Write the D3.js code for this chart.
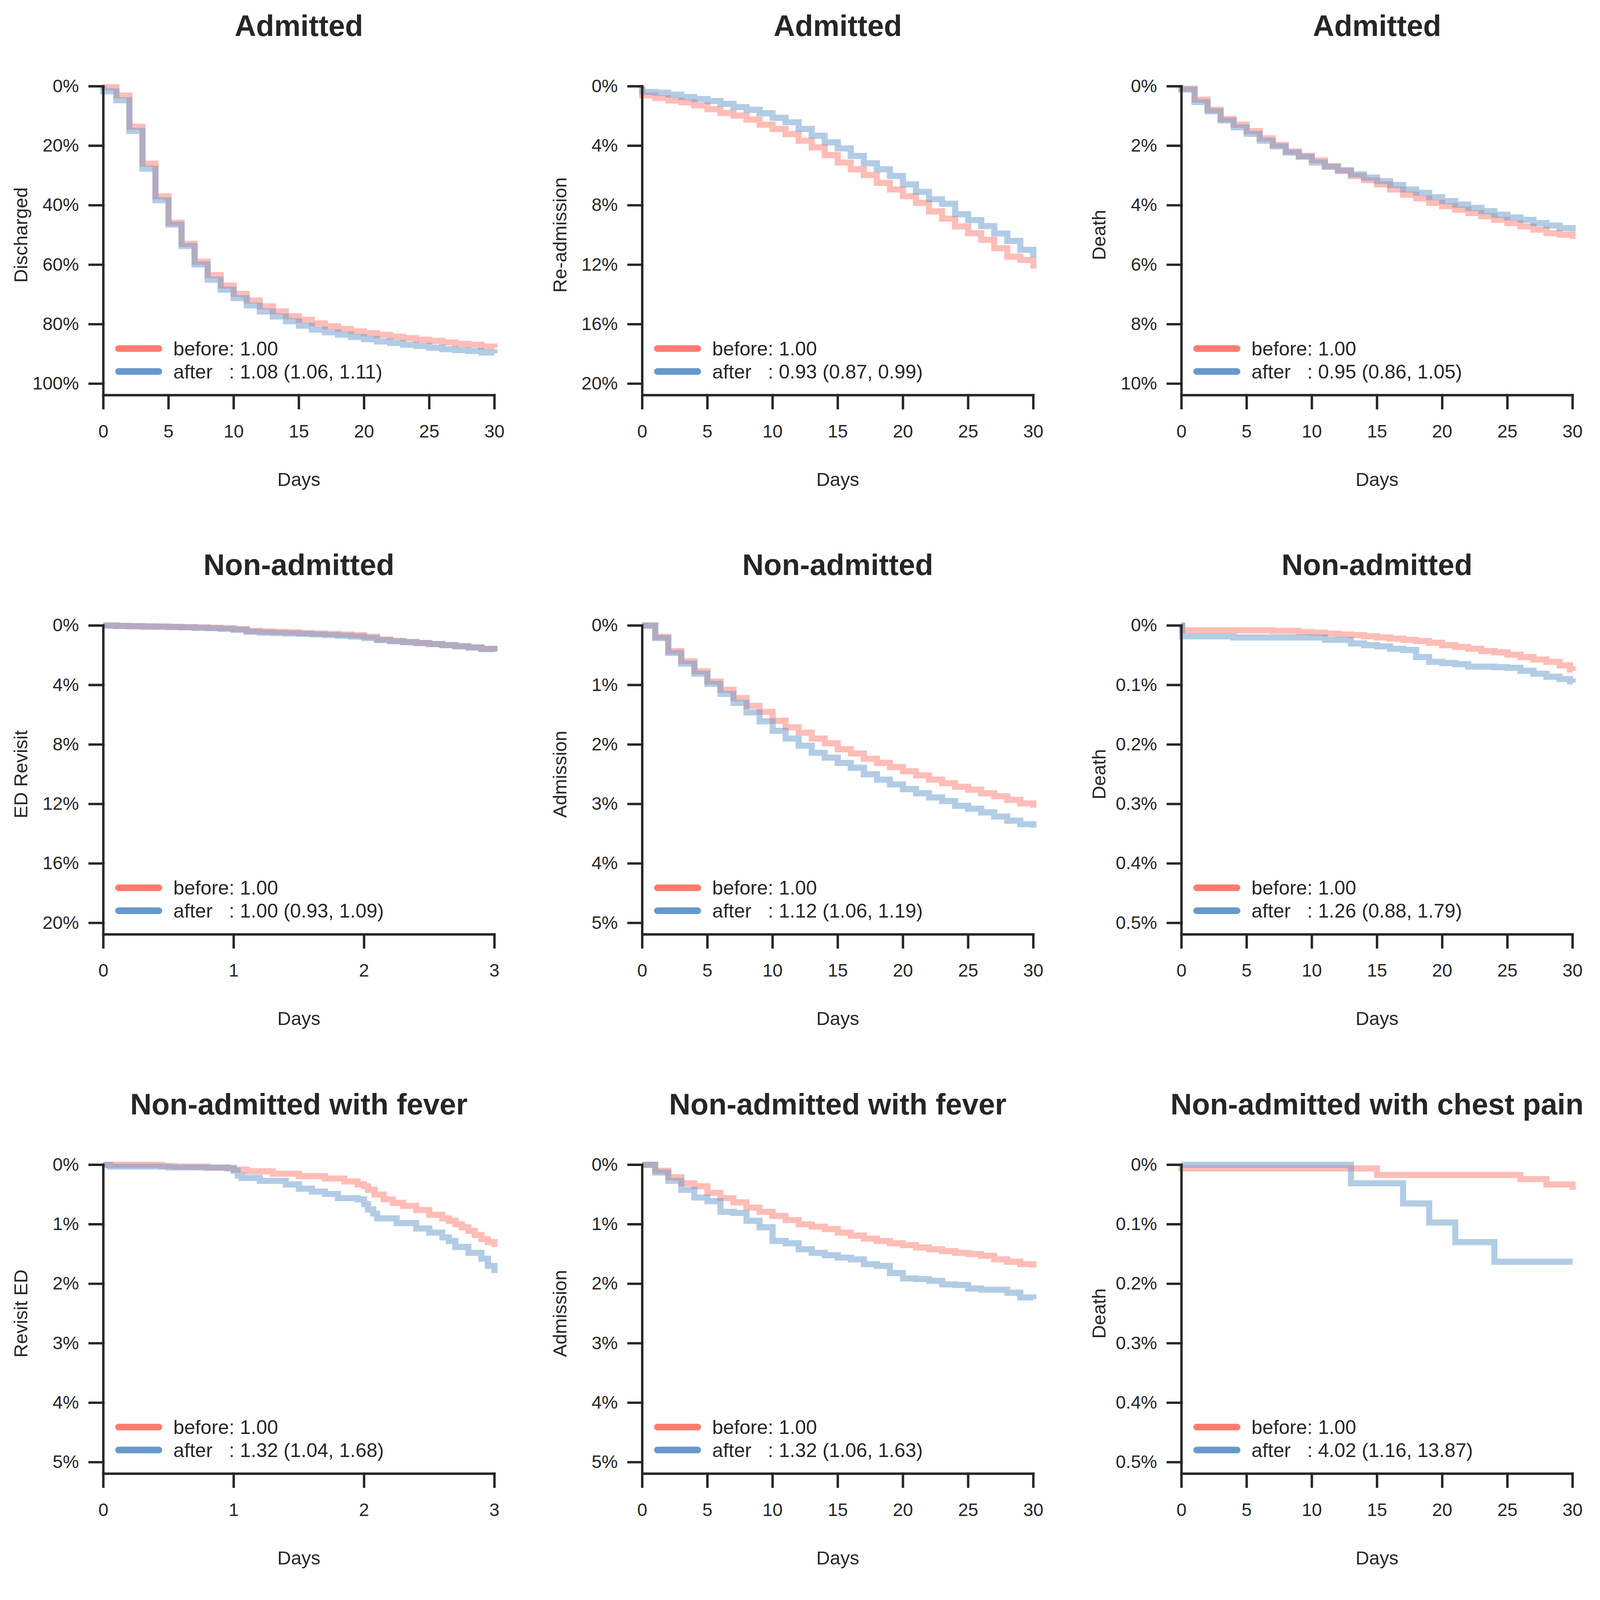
<!DOCTYPE html>
<html>
<head>
<meta charset="utf-8">
<script src="https://cdn.jsdelivr.net/npm/d3@7"></script>
<style>
  html, body { margin: 0; padding: 0; background: #fff; overflow: hidden; }
  svg { display: block; }
  text { font-family: 'Liberation Sans', Arial, sans-serif; fill: #262626; }
</style>
</head>
<body>
<div id="chart"></div>
<script>
// ---- data (cumulative %) ----

// daily step values, index = day 0..30
const dischargedBefore = [0.3, 3.1, 13.6, 26, 37, 45.9, 53, 59, 63.5, 67, 69.8, 72, 74, 75.7, 77.3, 78.5, 79.7, 80.7, 81.6, 82.4, 83, 83.6, 84.2, 84.7, 85.2, 85.6, 86.1, 86.6, 86.9, 87.5, 87.8]
const dischargedAfter = [1.7, 4.7, 15, 27.7, 38.3, 46.5, 53.7, 59.9, 65, 68.4, 71.2, 73.7, 75.7, 77.4, 79, 80.5, 81.8, 82.7, 83.5, 84.3, 85, 85.8, 86.3, 86.9, 87.3, 87.9, 88.4, 88.7, 89, 89.5, 89.8]

const readmitBefore = [0.61, 0.79, 0.95, 1.08, 1.29, 1.54, 1.79, 1.97, 2.24, 2.58, 2.87, 3.21, 3.66, 4.11, 4.63, 5.13, 5.58, 5.97, 6.49, 6.94, 7.39, 7.84, 8.41, 8.9, 9.42, 9.88, 10.33, 10.89, 11.46, 11.68, 12.25]
const readmitAfter = [0.38, 0.43, 0.56, 0.72, 0.86, 0.99, 1.18, 1.4, 1.58, 1.81, 2.12, 2.42, 2.87, 3.32, 3.77, 4.18, 4.68, 5.18, 5.58, 6.03, 6.6, 7.1, 7.6, 7.9, 8.6, 9.0, 9.4, 9.9, 10.4, 11.0, 11.5]

const deathAdmBefore = [0.08, 0.45, 0.79, 1.1, 1.29, 1.51, 1.75, 1.97, 2.19, 2.34, 2.49, 2.68, 2.85, 3.02, 3.16, 3.3, 3.47, 3.64, 3.77, 3.92, 4.03, 4.15, 4.26, 4.37, 4.49, 4.6, 4.71, 4.82, 4.94, 4.99, 5.13]
const deathAdmAfter = [0.11, 0.53, 0.84, 1.15, 1.38, 1.6, 1.83, 2.02, 2.23, 2.37, 2.56, 2.71, 2.82, 2.96, 3.07, 3.19, 3.32, 3.47, 3.58, 3.73, 3.86, 3.98, 4.09, 4.2, 4.32, 4.41, 4.49, 4.6, 4.68, 4.77, 4.88]

const admitNonBefore = [0, 0.19, 0.43, 0.6, 0.77, 0.94, 1.08, 1.22, 1.35, 1.45, 1.6, 1.71, 1.8, 1.9, 1.98, 2.08, 2.15, 2.24, 2.31, 2.38, 2.45, 2.52, 2.59, 2.65, 2.71, 2.76, 2.82, 2.87, 2.93, 2.99, 3.06]
const admitNonAfter = [0, 0.21, 0.46, 0.64, 0.81, 0.98, 1.15, 1.3, 1.46, 1.61, 1.77, 1.9, 2.02, 2.14, 2.22, 2.31, 2.39, 2.5, 2.59, 2.67, 2.75, 2.82, 2.89, 2.95, 3.03, 3.08, 3.14, 3.21, 3.28, 3.34, 3.4]

const admitFeverBefore = [0, 0.1, 0.21, 0.31, 0.36, 0.47, 0.56, 0.63, 0.72, 0.79, 0.86, 0.93, 1.0, 1.04, 1.08, 1.14, 1.19, 1.24, 1.28, 1.32, 1.35, 1.39, 1.42, 1.45, 1.48, 1.5, 1.53, 1.59, 1.63, 1.67, 1.73]
const admitFeverAfter = [0, 0.13, 0.27, 0.42, 0.55, 0.61, 0.79, 0.81, 0.94, 1.05, 1.28, 1.32, 1.42, 1.48, 1.52, 1.56, 1.59, 1.67, 1.7, 1.82, 1.91, 1.92, 1.95, 2.01, 2.02, 2.08, 2.1, 2.1, 2.15, 2.23, 2.26]

// [day, %] step points
const revisitBefore = [[0, 0], [0.1, 0.02], [0.2, 0.04], [0.3, 0.05], [0.4, 0.06], [0.5, 0.08], [0.6, 0.1], [0.7, 0.12], [0.8, 0.15], [0.9, 0.18], [1.0, 0.24], [1.1, 0.36], [1.2, 0.4], [1.3, 0.43], [1.4, 0.46], [1.5, 0.5], [1.6, 0.53], [1.7, 0.56], [1.8, 0.6], [1.9, 0.65], [2.0, 0.75], [2.1, 0.93], [2.2, 1.03], [2.3, 1.1], [2.4, 1.17], [2.5, 1.24], [2.6, 1.31], [2.7, 1.38], [2.8, 1.46], [2.9, 1.56], [3.0, 1.72]]
const revisitAfter = [[0, 0], [0.1, 0.03], [0.2, 0.05], [0.3, 0.07], [0.4, 0.08], [0.5, 0.1], [0.6, 0.12], [0.7, 0.15], [0.8, 0.18], [0.9, 0.22], [1.0, 0.28], [1.1, 0.42], [1.2, 0.47], [1.3, 0.5], [1.4, 0.53], [1.5, 0.56], [1.6, 0.6], [1.7, 0.64], [1.8, 0.69], [1.9, 0.74], [2.0, 0.84], [2.1, 0.98], [2.2, 1.06], [2.3, 1.12], [2.4, 1.18], [2.5, 1.25], [2.6, 1.32], [2.7, 1.4], [2.8, 1.48], [2.9, 1.58], [3.0, 1.76]]

const deathNonBefore = [[0, 0], [0.05, 0.008], [7, 0.009], [9, 0.011], [10, 0.012], [11, 0.0135], [12, 0.015], [13, 0.016], [14, 0.018], [15, 0.02], [16, 0.022], [17, 0.024], [18, 0.026], [19, 0.029], [20, 0.033], [21, 0.036], [22, 0.039], [23, 0.043], [24, 0.045], [25, 0.049], [26, 0.053], [27, 0.057], [28, 0.061], [29, 0.067], [29.8, 0.074], [30, 0.076]]
const deathNonAfter = [[0, 0], [0.05, 0.018], [4, 0.02], [11, 0.024], [13, 0.03], [14, 0.033], [15, 0.035], [16, 0.039], [17, 0.041], [18, 0.053], [19, 0.061], [20, 0.063], [21, 0.065], [22, 0.069], [24, 0.07], [25, 0.071], [26, 0.076], [27, 0.081], [28, 0.086], [29, 0.09], [29.8, 0.094], [30, 0.096]]

const revisitFeverBefore = [[0, 0], [0.45, 0.02], [0.55, 0.03], [0.8, 0.05], [1.0, 0.08], [1.1, 0.11], [1.3, 0.15], [1.5, 0.19], [1.7, 0.23], [1.85, 0.28], [1.95, 0.33], [2.0, 0.36], [2.03, 0.42], [2.08, 0.5], [2.15, 0.58], [2.22, 0.64], [2.3, 0.69], [2.4, 0.76], [2.5, 0.84], [2.6, 0.9], [2.65, 0.94], [2.7, 1.0], [2.75, 1.05], [2.8, 1.11], [2.85, 1.18], [2.9, 1.25], [2.95, 1.3], [3.0, 1.38]]
const revisitFeverAfter = [[0, 0], [0.05, 0.03], [0.5, 0.045], [0.95, 0.06], [1.0, 0.1], [1.03, 0.18], [1.06, 0.22], [1.2, 0.27], [1.4, 0.33], [1.5, 0.4], [1.6, 0.45], [1.7, 0.49], [1.8, 0.56], [1.95, 0.58], [2.0, 0.66], [2.03, 0.75], [2.07, 0.82], [2.1, 0.9], [2.25, 0.98], [2.4, 1.07], [2.5, 1.14], [2.6, 1.22], [2.65, 1.28], [2.7, 1.38], [2.8, 1.48], [2.9, 1.58], [2.95, 1.7], [3.0, 1.82]]

const deathChestBefore = [[0, 0], [0, 0.006], [15, 0.017], [26, 0.024], [28, 0.033], [30, 0.042]]
const deathChestAfter = [[0, 0], [13, 0.031], [17, 0.065], [19, 0.097], [21, 0.13], [24, 0.163], [30, 0.163]]

// axes ticks
const xTicks30 = [0, 5, 10, 15, 20, 25, 30]
const xTicks3 = [0, 1, 2, 3]
const yTicks100 = [0, 20, 40, 60, 80, 100]
const yTicks20 = [0, 4, 8, 12, 16, 20]
const yTicks10 = [0, 2, 4, 6, 8, 10]
const yTicks5 = [0, 1, 2, 3, 4, 5]
const yTicksHalf = [0, 0.1, 0.2, 0.3, 0.4, 0.5]

const titles = ['Admitted', 'Admitted', 'Admitted', 'Non-admitted', 'Non-admitted', 'Non-admitted', 'Non-admitted with fever', 'Non-admitted with fever', 'Non-admitted with chest pain']
const yLabels = ['Discharged', 'Re-admission', 'Death', 'ED Revisit', 'Admission', 'Death', 'Revisit ED', 'Admission', 'Death']
const afterRatios = ['1.08 (1.06, 1.11)', '0.93 (0.87, 0.99)', '0.95 (0.86, 1.05)', '1.00 (0.93, 1.09)', '1.12 (1.06, 1.19)', '1.26 (0.88, 1.79)', '1.32 (1.04, 1.68)', '1.32 (1.06, 1.63)', '4.02 (1.16, 13.87)']

// daily arrays -> step points starting at 0
const daily = vals => [[0, 0]].concat(vals.map((v, i) => [i, v]))

const panels = [
  { before: daily(dischargedBefore), after: daily(dischargedAfter), xTicks: xTicks30, yTicks: yTicks100 },
  { before: daily(readmitBefore), after: daily(readmitAfter), xTicks: xTicks30, yTicks: yTicks20 },
  { before: daily(deathAdmBefore), after: daily(deathAdmAfter), xTicks: xTicks30, yTicks: yTicks10 },
  { before: revisitBefore, after: revisitAfter, xTicks: xTicks3, yTicks: yTicks20 },
  { before: daily(admitNonBefore), after: daily(admitNonAfter), xTicks: xTicks30, yTicks: yTicks5 },
  { before: deathNonBefore, after: deathNonAfter, xTicks: xTicks30, yTicks: yTicksHalf },
  { before: revisitFeverBefore, after: revisitFeverAfter, xTicks: xTicks3, yTicks: yTicks5 },
  { before: daily(admitFeverBefore), after: daily(admitFeverAfter), xTicks: xTicks30, yTicks: yTicks5 },
  { before: deathChestBefore, after: deathChestAfter, xTicks: xTicks30, yTicks: yTicksHalf }
]

// ---- layout (in a 4320 x 4254 drawing space) ----
const W = 4320
const H = 4254
const colLeft = [279, 1734, 3190]
const rowTop = [233, 1689, 3145]
const axW = 1056
const axH = 834
const tickSpan = 803
const ink = '#262626'
const colorBefore = '#ff7b70'
const colorAfter = '#6699cc'

// fit the drawing to the real viewport width, pinned to the top-left
const vw = window.innerWidth || W

const svg = d3
  .select('#chart')
  .append('svg')
  .attr('width', vw)
  .attr('height', (vw * H) / W)
  .attr('viewBox', `0 0 ${W} ${H}`)
  .attr('preserveAspectRatio', 'xMinYMin meet')

panels.forEach((p, i) => {
  const left = colLeft[i % 3]
  const top = rowTop[Math.floor(i / 3)]
  const bottom = top + axH
  const xMax = p.xTicks[p.xTicks.length - 1]
  const yMax = p.yTicks[p.yTicks.length - 1]

  const x = d3.scaleLinear().domain([0, xMax]).range([left, left + axW])
  const y = d3
    .scaleLinear()
    .domain([0, (yMax * axH) / tickSpan])
    .range([top, bottom])

  const line = d3
    .line()
    .x(d => x(d[0]))
    .y(d => y(d[1]))
    .curve(d3.curveStepAfter)

  const g = svg.append('g')

  g.append('path')
    .datum(p.before)
    .attr('d', line)
    .attr('fill', 'none')
    .attr('stroke', colorBefore)
    .attr('stroke-opacity', 0.5)
    .attr('stroke-width', 16.5)

  g.append('path')
    .datum(p.after)
    .attr('d', line)
    .attr('fill', 'none')
    .attr('stroke', colorAfter)
    .attr('stroke-opacity', 0.5)
    .attr('stroke-width', 16.5)

  const yAxis = d3
    .axisLeft(y)
    .tickValues(p.yTicks)
    .tickFormat(d => d + '%')
    .tickSize(37)
    .tickSizeOuter(0)
    .tickPadding(29)
    .offset(0)

  const xAxis = d3
    .axisBottom(x)
    .tickValues(p.xTicks)
    .tickFormat(d => d)
    .tickSize(35)
    .tickSizeOuter(0)
    .tickPadding(44)
    .offset(0)

  g.append('g')
    .attr('transform', `translate(${left},0)`)
    .call(yAxis)
  g.append('g')
    .attr('transform', `translate(0,${bottom})`)
    .call(xAxis)

  g.selectAll('.domain, .tick line')
    .attr('stroke', ink)
    .attr('stroke-width', 6.5)
    .attr('stroke-linecap', 'square')
  g.selectAll('.tick text').attr('font-size', 49)

  // title
  g.append('text')
    .attr('x', left + axW / 2)
    .attr('y', top - 136)
    .attr('text-anchor', 'middle')
    .attr('font-size', 80)
    .attr('font-weight', 'bold')
    .text(titles[i])

  // axis labels
  g.append('text')
    .attr('transform', `translate(${left - 205},${top + tickSpan / 2}) rotate(-90)`)
    .attr('text-anchor', 'middle')
    .attr('font-size', 51)
    .text(yLabels[i])

  g.append('text')
    .attr('x', left + axW / 2)
    .attr('y', bottom + 245)
    .attr('text-anchor', 'middle')
    .attr('font-size', 51)
    .text('Days')

  // legend
  const legend = [
    { color: colorBefore, label: 'before: 1.00', dy: -126 },
    { color: colorAfter, label: 'after   : ' + afterRatios[i], dy: -64 }
  ]
  legend.forEach(l => {
    g.append('line')
      .attr('x1', left + 41)
      .attr('x2', left + 150)
      .attr('y1', bottom + l.dy)
      .attr('y2', bottom + l.dy)
      .attr('stroke', l.color)
      .attr('stroke-width', 18)
      .attr('stroke-linecap', 'round')
    g.append('text')
      .attr('x', left + 189)
      .attr('y', bottom + l.dy)
      .attr('dy', '0.35em')
      .attr('font-size', 53)
      .style('white-space', 'pre')
      .text(l.label)
  })
})
</script>
</body>
</html>
